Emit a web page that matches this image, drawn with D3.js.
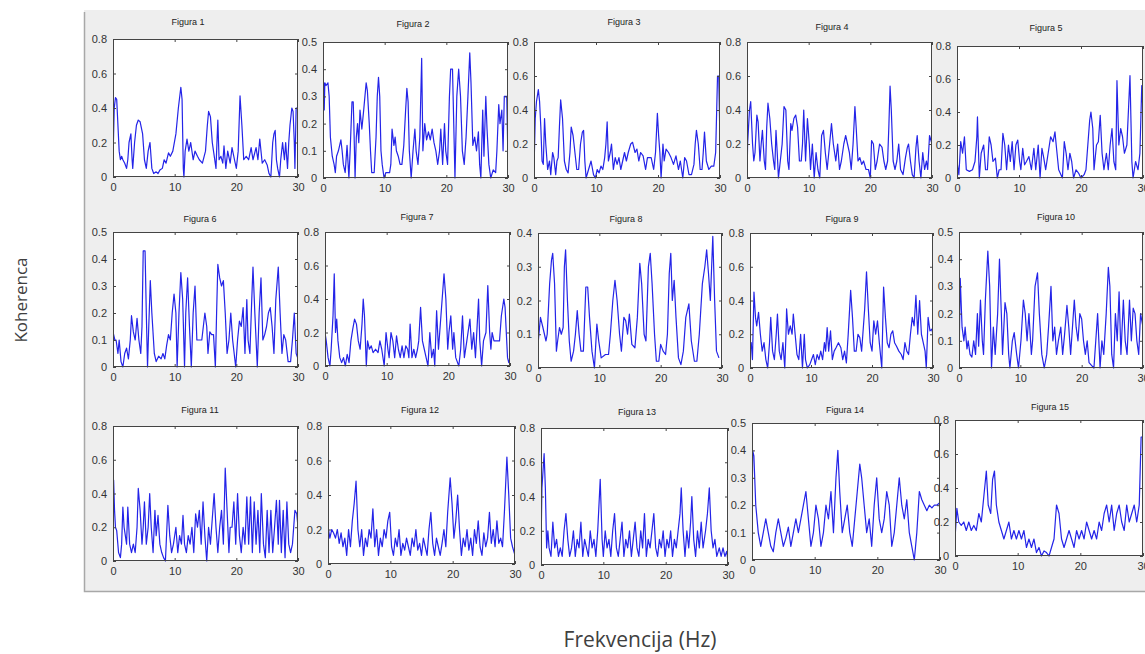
<!DOCTYPE html>
<html>
<head>
<meta charset="utf-8">
<script src="https://cdn.jsdelivr.net/npm/d3@7"></script>
<style>
body { margin: 0; background: #fff; }
</style>
</head>
<body>
<svg id="chart" width="1145" height="654"></svg>
<script>
// coherence readings, [frequency Hz, coherence]
const fig1 = [[0,.1],[.2,.4],[.4,.46],[.6,.45],[.8,.3],[1.0,.15],[1.2,.1],[1.4,.12],[1.6,.1],[1.9,.08],[2.2,.05],[2.4,.1],[2.6,.2],[2.9,.25],[3.1,.1],[3.2,.05],[3.5,.2],[3.8,.3],[4.1,.33],[4.4,.32],[4.8,.25],[5.1,.1],[5.4,.05],[5.7,.15],[6.0,.2],[6.3,.05],[6.6,.02],[7.0,.03],[7.3,.02],[7.6,.04],[8.0,.05],[8.3,.1],[8.6,.08],[9.0,.14],[9.3,.12],[9.7,.15],[10.2,.25],[10.6,.4],[11.0,.52],[11.2,.45],[11.4,.05],[11.5,0],[11.7,.15],[12.0,.22],[12.3,.15],[12.6,.2],[13.0,.1],[13.3,.15],[13.7,.12],[14.0,.1],[14.5,.08],[15.0,.15],[15.3,.3],[15.5,.38],[15.8,.35],[16.1,.2],[16.3,.15],[16.7,.05],[17.0,.33],[17.2,.1],[17.5,.12],[17.8,.08],[18.0,.18],[18.3,.05],[18.6,.15],[19.0,.08],[19.3,.17],[19.7,.1],[20.0,.05],[20.3,.15],[20.6,.47],[20.9,.3],[21.2,.1],[21.6,.12],[22.0,.1],[22.4,.17],[22.7,.1],[23.2,.17],[23.5,.1],[23.8,.22],[24.2,.08],[24.6,.1],[25.0,.07],[25.3,.02],[25.6,0],[25.9,.2],[26.1,.25],[26.3,.27],[26.5,.1],[26.7,.05],[27.0,0],[27.2,.1],[27.5,.2],[27.8,.1],[28.0,.2],[28.3,.05],[28.5,.2],[28.7,.3],[29.0,.4],[29.2,.38],[29.4,.2],[29.5,.05],[29.7,.4],[30,.4]];
const fig2 = [[0,.15],[.1,.35],[.2,.25],[.3,.35],[.5,.34],[.8,.35],[1.0,.3],[1.2,.15],[1.5,.08],[1.8,.05],[2.0,.02],[2.2,.08],[2.5,.1],[2.7,.12],[2.9,.14],[3.1,.1],[3.3,.05],[3.6,.02],[3.9,.12],[4.2,0],[4.4,.1],[4.6,.22],[4.7,.28],[4.9,.28],[5.0,.2],[5.2,0],[5.4,.15],[5.6,.2],[5.8,.13],[6.0,.25],[6.3,.18],[6.6,.25],[6.8,.3],[7.0,.35],[7.2,.32],[7.5,.2],[7.7,.1],[7.9,.02],[8.3,.02],[8.6,.15],[8.8,.3],[9.0,.37],[9.2,.3],[9.4,.1],[9.6,.05],[9.9,0],[10.2,.02],[10.8,.02],[11.0,.05],[11.2,.18],[11.5,.12],[11.7,.15],[11.9,.1],[12.2,.08],[12.5,.05],[12.8,.05],[13.1,.12],[13.4,.25],[13.6,.33],[13.8,.28],[14.0,.1],[14.3,0],[14.6,.1],[14.9,.18],[15.1,.1],[15.4,.05],[15.7,.15],[16.0,.44],[16.2,.1],[16.5,.2],[16.8,.14],[17.1,.17],[17.4,.14],[17.7,.18],[18.0,.13],[18.3,.1],[18.6,.05],[18.9,.1],[19.1,.18],[19.4,.05],[19.7,.2],[19.9,.1],[20.2,.05],[20.5,.3],[20.7,.4],[21.0,.4],[21.2,.2],[21.4,0],[21.7,.3],[22.0,.4],[22.3,.3],[22.6,.1],[22.9,.05],[23.2,.15],[23.5,.3],[23.8,.46],[24.0,.35],[24.3,.12],[24.6,.15],[24.9,.1],[25.2,.17],[25.4,.05],[25.6,0],[25.9,.25],[26.1,.08],[26.4,.3],[26.6,.18],[26.9,.05],[27.2,0],[27.6,.03],[28.0,.02],[28.2,.1],[28.5,.27],[28.7,.2],[29.0,.25],[29.2,.1],[29.4,.3],[29.8,.3],[30,.05]];
const fig3 = [[0,.05],[.2,.35],[.4,.45],[.7,.52],[.9,.45],[1.1,.3],[1.3,.1],[1.5,.08],[1.7,.35],[1.9,.2],[2.2,.05],[2.5,.1],[2.7,.02],[3.0,.15],[3.2,.12],[3.5,.02],[3.7,.1],[3.9,.12],[4.1,.3],[4.3,.46],[4.6,.35],[4.9,.1],[5.2,.05],[5.5,.03],[5.8,.15],[6.0,.3],[6.3,.25],[6.6,.15],[6.9,.05],[7.2,.05],[7.5,.2],[7.8,.27],[8.0,.28],[8.2,.1],[8.4,0],[8.8,.05],[9.2,.1],[9.6,.02],[9.9,0],[10.2,.05],[10.5,.03],[10.8,.07],[11.1,.05],[11.4,.12],[11.6,.2],[11.8,.33],[12.0,.1],[12.3,.15],[12.5,.2],[12.8,.05],[13.1,.12],[13.4,.08],[13.7,.12],[14.0,.05],[14.3,.1],[14.6,.15],[14.9,.1],[15.2,.15],[15.6,.2],[15.9,.21],[16.3,.15],[16.6,.17],[16.9,.1],[17.2,.15],[17.6,.13],[18.0,.05],[18.3,.12],[18.9,.12],[19.3,.05],[19.6,.15],[19.9,.38],[20.1,.25],[20.3,.15],[20.5,0],[20.8,.2],[21.0,.1],[21.3,.17],[21.7,.15],[22.1,.12],[22.5,.08],[22.9,.13],[23.3,.05],[23.6,.1],[24.0,0],[24.3,.12],[24.6,.1],[25.0,.02],[25.4,.02],[25.8,.08],[26.0,.2],[26.2,.28],[26.5,.2],[26.8,.05],[27.1,.05],[27.3,.15],[27.5,.27],[27.8,.1],[28.2,.05],[28.6,.07],[29.0,.07],[29.3,.15],[29.5,.45],[29.6,.6],[29.8,.6],[30,.2]];
const fig4 = [[0,0],[.1,.2],[.4,.4],[.6,.45],[.9,.2],[1.1,.1],[1.3,.15],[1.6,.37],[1.8,.33],[2.1,.1],[2.3,.2],[2.5,.28],[2.8,.1],[3.0,.05],[3.2,.3],[3.4,.44],[3.7,.35],[4.0,.2],[4.3,.1],[4.5,.05],[4.7,.28],[4.9,.15],[5.1,0],[5.4,.1],[5.7,.2],[6.0,.42],[6.3,.4],[6.6,.1],[6.8,.05],[7.1,.32],[7.3,.28],[7.6,.35],[7.9,.37],[8.2,.3],[8.5,.1],[8.8,.1],[9.0,.2],[9.2,.4],[9.5,.1],[9.8,.35],[10.1,.2],[10.3,.05],[10.6,.2],[10.9,0],[11.2,.15],[11.5,.05],[11.8,0],[12.1,.25],[12.4,.28],[12.7,.15],[13.0,.05],[13.4,.2],[13.7,.32],[14.0,.2],[14.4,.1],[14.7,.2],[15.0,.05],[15.3,.1],[15.7,.2],[16.0,.25],[16.3,.2],[16.6,.15],[16.9,.05],[17.2,.2],[17.5,.42],[17.7,.3],[18.0,.1],[18.3,.12],[18.6,.08],[18.9,.1],[19.3,.05],[19.7,.05],[20.0,0],[20.2,.22],[20.5,.2],[20.8,.05],[21.1,.1],[21.5,.2],[21.9,.18],[22.2,.1],[22.5,.05],[22.8,.1],[23.0,.3],[23.2,.54],[23.4,.4],[23.7,.1],[24.0,.05],[24.3,.1],[24.6,.2],[24.9,.05],[25.3,.02],[25.7,.12],[26.0,.18],[26.2,.2],[26.5,.1],[26.8,.02],[27.1,0],[27.4,.18],[27.6,.25],[27.9,.1],[28.2,0],[28.5,.15],[28.8,.05],[29.1,.1],[29.3,.05],[29.6,.25],[30,.2]];
const fig5 = [[0,.1],[.3,.02],[.6,.22],[.9,.15],[1.2,.25],[1.5,.05],[2.0,.04],[2.5,.05],[2.9,.1],[3.2,.25],[3.3,.37],[3.6,0],[3.9,.15],[4.3,.2],[4.6,.05],[4.9,.05],[5.2,.25],[5.5,.2],[5.8,.1],[6.2,.12],[6.5,0],[6.8,.05],[7.1,.05],[7.4,.27],[7.7,.2],[8.0,.05],[8.3,.2],[8.6,.1],[8.9,.22],[9.2,.05],[9.5,.2],[9.8,.23],[10.1,.1],[10.3,.05],[10.6,.18],[10.9,.08],[11.2,.1],[11.6,.13],[12.0,.05],[12.4,.18],[12.7,.05],[13.1,.2],[13.4,0],[13.7,.18],[14.0,.12],[14.3,.05],[14.7,.15],[15.1,.25],[15.5,.22],[15.8,.28],[16.0,.2],[16.4,.05],[17.0,0],[17.3,.22],[17.6,.15],[17.9,.05],[18.2,.15],[18.5,.1],[18.8,0],[19.2,.05],[19.6,.03],[20.0,0],[20.5,.02],[20.8,.05],[21.1,.2],[21.4,.35],[21.6,.4],[21.9,.3],[22.1,.05],[22.5,.2],[22.8,.22],[23.1,.38],[23.4,.15],[23.7,.05],[24.1,.15],[24.4,.05],[24.7,.2],[25.0,.3],[25.3,.1],[25.6,.05],[25.8,.59],[26.1,.2],[26.4,.3],[26.7,.25],[27.0,.15],[27.4,.2],[27.7,.45],[27.9,.62],[28.2,.1],[28.4,0],[28.8,.1],[29.2,.05],[29.5,.15],[29.8,.56],[30,.4]];
const fig6 = [[0,.13],[.3,.1],[.5,.1],[.8,.05],[1.0,.1],[1.3,.02],[1.6,0],[1.9,.05],[2.2,.07],[2.5,.03],[2.8,.1],[3.0,.19],[3.3,.13],[3.6,.1],[3.9,.18],[4.2,.1],[4.5,.05],[4.7,.15],[4.9,.43],[5.2,.43],[5.4,.2],[5.6,0],[5.8,.15],[6.05,.32],[6.3,.2],[6.7,.05],[7.0,.02],[7.4,.04],[7.8,.03],[8.1,.05],[8.4,.03],[8.7,.08],[9.0,.12],[9.3,.1],[9.6,.2],[9.9,.27],[10.2,.2],[10.4,0],[10.7,.2],[11.0,.35],[11.3,.25],[11.6,0],[11.8,.2],[12.1,.33],[12.4,.15],[12.7,0],[13.0,.2],[13.3,.3],[13.6,.1],[14.0,.1],[14.4,.1],[14.9,.2],[15.2,.15],[15.4,.05],[15.7,.13],[16.0,.12],[16.3,.12],[16.6,0],[16.8,.2],[17.0,.38],[17.3,.33],[17.6,.3],[17.9,.32],[18.2,.2],[18.5,.05],[18.8,.1],[19.1,.2],[19.4,.1],[19.9,0],[20.2,.1],[20.5,.17],[20.8,.15],[21.1,.22],[21.4,.05],[21.7,.25],[21.9,.1],[22.2,.05],[22.5,.25],[22.7,.37],[23.0,.2],[23.4,0],[23.7,.2],[24.0,.33],[24.3,.1],[24.6,.12],[24.9,.15],[25.2,.2],[25.5,.22],[25.8,.15],[26.1,.05],[26.4,.25],[26.8,.37],[27.1,.2],[27.4,.05],[27.7,.12],[28.0,.1],[28.4,.02],[28.8,.02],[29.1,.1],[29.4,.2],[29.7,.05],[30,.03]];
const fig7 = [[0,.2],[.2,.15],[.5,.05],[.8,0],[1.0,.1],[1.3,.3],[1.5,.55],[1.7,.2],[1.9,.28],[2.1,.15],[2.4,.05],[2.7,.02],[3.0,.05],[3.3,0],[3.6,.07],[3.9,.02],[4.2,.15],[4.5,.22],[4.8,.28],[5.1,.25],[5.4,.15],[5.7,.1],[6.0,.25],[6.2,.4],[6.4,.3],[6.7,0],[6.9,.15],[7.2,.1],[7.5,.12],[7.8,.08],[8.2,.1],[8.6,.08],[8.9,.15],[9.2,.1],[9.6,0],[9.9,.2],[10.2,.1],[10.4,.05],[10.7,.2],[11.0,.15],[11.3,.05],[11.6,.18],[11.9,.1],[12.2,.05],[12.5,.12],[12.8,.05],[13.1,.12],[13.4,.1],[13.6,.05],[13.8,.25],[14.1,.05],[14.4,.1],[14.7,.05],[15.0,.1],[15.2,.15],[15.5,.35],[15.8,.15],[16.1,.1],[16.4,.05],[16.7,0],[17.0,.2],[17.3,.05],[17.6,.1],[17.8,0],[18.1,.33],[18.4,.1],[18.8,.3],[19.3,.55],[19.6,.4],[19.9,.1],[20.1,.2],[20.4,.3],[20.7,.1],[20.9,.2],[21.2,.05],[21.7,0],[22.0,.1],[22.3,.3],[22.6,.05],[23.0,.15],[23.5,.28],[23.8,.1],[24.1,.2],[24.4,.05],[24.9,.4],[25.1,.15],[25.4,0],[25.7,.15],[26.1,.2],[26.4,.48],[26.7,.2],[26.9,.1],[27.1,.2],[27.4,.15],[27.9,.15],[28.3,.15],[28.6,.3],[29.0,.4],[29.2,.35],[29.6,.05],[29.8,.02],[30,.05]];
const fig8 = [[0,.07],[.4,.15],[.8,.12],[1.3,.08],[1.5,.1],[1.9,.25],[2.2,.32],[2.4,.34],[2.7,.25],[3.0,.05],[3.2,.08],[3.5,.12],[3.8,.1],[4.1,.12],[4.3,.3],[4.5,.35],[4.8,.2],[5.1,.08],[5.4,.02],[5.8,.05],[6.1,.1],[6.4,.17],[6.7,.1],[7.0,.05],[7.4,.05],[7.8,.24],[8.1,.24],[8.4,.15],[8.8,.05],[9.2,0],[9.6,.13],[9.9,.08],[10.3,.03],[11.0,.04],[11.5,.04],[11.8,.1],[12.2,.2],[12.55,.26],[12.9,.2],[13.3,.1],[13.6,.05],[14.0,.15],[14.3,.14],[14.6,.1],[14.9,.16],[15.3,.07],[15.8,.06],[16.2,.15],[16.6,.31],[16.9,.25],[17.3,.1],[17.6,.08],[18.0,.3],[18.3,.34],[18.6,.25],[19.0,.1],[19.3,.02],[19.7,.02],[20.0,.07],[20.4,.05],[20.8,.04],[21.1,.1],[21.4,.28],[21.65,.34],[21.9,.2],[22.2,.26],[22.5,.15],[22.9,.03],[23.3,.01],[23.7,.05],[24.1,.15],[24.6,.19],[25.0,.08],[25.5,.02],[25.9,.02],[26.3,.1],[26.8,.25],[27.2,.3],[27.5,.35],[27.8,.28],[28.1,.2],[28.5,.39],[28.8,.2],[29.1,.05],[29.5,.03]];
const fig9 = [[0,.1],[.2,.15],[.4,.05],[.65,.45],[.9,.3],[1.1,.25],[1.4,.33],[1.7,.2],[2.0,.1],[2.3,.15],[2.6,.05],[2.9,0],[3.2,.15],[3.4,.3],[3.7,.1],[4.0,.05],[4.3,.2],[4.5,.32],[4.8,.1],[5.1,.05],[5.4,.15],[5.7,0],[5.9,.2],[6.0,.35],[6.3,.2],[6.6,.25],[6.9,.2],[7.1,.32],[7.4,.2],[7.7,.08],[8.0,.05],[8.3,.2],[8.6,0],[8.9,.2],[9.1,.05],[9.4,0],[9.8,.02],[10.1,.05],[10.4,.08],[10.7,.02],[11.0,.08],[11.3,.05],[11.6,.1],[11.9,.05],[12.2,.15],[12.4,.1],[12.65,.24],[12.9,.1],[13.2,.22],[13.5,.05],[13.8,.1],[14.1,.12],[14.5,.15],[14.9,.12],[15.2,.05],[15.5,.1],[15.8,.03],[16.1,.2],[16.5,.46],[16.8,.3],[17.1,.1],[17.4,.1],[17.7,.2],[18.0,.18],[18.3,.1],[18.8,.35],[19.1,.57],[19.4,.35],[19.7,.15],[20.0,.1],[20.3,.28],[20.6,.2],[20.9,.28],[21.2,.15],[21.6,0],[21.9,.48],[22.2,.3],[22.5,.15],[22.8,.12],[23.1,.2],[23.4,.22],[23.7,.15],[24.0,.13],[24.4,.1],[24.8,.08],[25.1,.05],[25.4,.15],[25.7,.1],[26.0,.08],[26.3,.2],[26.6,.3],[26.9,.25],[27.2,.43],[27.5,.2],[27.8,.4],[28.1,.2],[28.4,.15],[28.7,.1],[28.9,0],[29.2,.3],[29.5,.22],[29.8,.23],[30,.2]];
const fig10 = [[0,0],[.2,.33],[.5,.15],[.8,.1],[1.0,.15],[1.3,.07],[1.5,.1],[1.8,.05],[2.1,.04],[2.4,.1],[2.7,.05],[3.0,.2],[3.2,.08],[3.5,.25],[3.8,.1],[4.0,.05],[4.3,.25],[4.7,.43],[5.0,.3],[5.3,0],[5.6,.15],[5.9,.05],[6.3,.2],[6.6,.4],[6.9,.2],[7.1,.05],[7.5,.24],[7.8,.2],[8.1,.05],[8.3,0],[8.7,.1],[9.0,.13],[9.4,.05],[9.7,0],[10.1,.1],[10.5,.25],[10.8,.2],[11.1,.1],[11.4,.2],[11.8,.05],[12.0,.1],[12.4,.3],[12.8,.35],[13.1,.2],[13.5,.05],[13.9,0],[14.3,.05],[14.6,.15],[15.0,.3],[15.3,.1],[15.6,.15],[15.9,.05],[16.2,.1],[16.6,.15],[16.9,.05],[17.2,.12],[17.6,.23],[17.9,.15],[18.2,.05],[18.5,.15],[18.8,.25],[19.1,.15],[19.4,.1],[19.7,.2],[20.0,.18],[20.3,.1],[20.6,.05],[20.9,.1],[21.2,.02],[21.6,.01],[22.0,0],[22.3,.1],[22.6,.2],[23.0,0],[23.3,.1],[23.6,.05],[24.0,.2],[24.35,.37],[24.6,.3],[24.9,.05],[25.2,0],[25.5,.2],[25.8,.1],[26.1,.28],[26.4,.05],[26.8,.25],[27.1,.1],[27.4,.05],[27.8,.25],[28.1,.1],[28.4,.22],[28.7,.2],[29.0,.1],[29.3,.05],[29.6,.2],[30,.15]];
const fig11 = [[0,.3],[.1,.48],[.25,.3],[.4,.2],[.6,.18],[.9,.05],[1.2,.02],[1.4,.1],[1.6,.32],[1.8,.2],[2.0,.15],[2.2,.1],[2.4,.32],[2.7,.1],[3.0,.05],[3.3,.1],[3.6,.05],[3.9,.2],[4.1,.43],[4.4,.3],[4.7,.1],[4.9,.2],[5.1,.35],[5.4,.1],[5.7,.2],[5.95,.4],[6.2,.2],[6.5,.05],[6.8,.3],[7.0,.15],[7.3,.27],[7.6,.1],[7.9,.05],[8.2,.02],[8.5,0],[8.9,.33],[9.2,.15],[9.5,.05],[9.8,.1],[10.2,.2],[10.5,.05],[10.8,.15],[11.1,.1],[11.35,.27],[11.6,.1],[11.9,.05],[12.2,.15],[12.5,.1],[12.8,.2],[13.1,.05],[13.4,.28],[13.7,.2],[14.0,.3],[14.3,.1],[14.6,.35],[14.9,.15],[15.2,0],[15.5,.2],[15.8,.1],[16.1,.25],[16.4,.4],[16.7,.2],[17.0,.05],[17.3,.2],[17.6,.3],[17.9,.1],[18.2,.55],[18.5,.3],[18.8,.05],[19.0,.2],[19.3,.2],[19.6,.35],[19.9,.1],[20.2,.4],[20.5,.15],[20.8,.05],[21.1,.2],[21.4,.1],[21.7,.38],[22.0,.1],[22.3,.38],[22.6,.05],[22.9,.35],[23.2,.1],[23.5,.3],[23.8,.05],[24.05,.4],[24.4,.1],[24.7,.02],[25.0,.3],[25.3,.05],[25.6,.3],[25.9,.05],[26.2,.2],[26.5,.36],[26.8,.1],[27.0,.36],[27.3,.05],[27.6,.3],[27.9,.02],[28.2,.35],[28.5,.1],[28.8,.05],[29.1,.1],[29.5,.3],[29.8,.28],[30,.2]];
const fig12 = [[0,.22],[.3,.15],[.6,.2],[.9,.18],[1.2,.15],[1.5,.2],[1.8,.12],[2.1,.18],[2.4,.1],[2.7,.15],[3.0,.05],[3.3,.2],[3.6,.1],[3.9,.25],[4.2,.35],[4.5,.48],[4.8,.2],[5.1,.1],[5.4,.2],[5.7,.05],[6.0,.15],[6.3,.1],[6.6,.2],[6.9,.15],[7.2,.32],[7.5,.1],[7.8,.2],[8.1,.05],[8.4,.15],[8.7,.1],[9.0,.2],[9.3,.15],[9.6,.25],[9.9,.3],[10.2,.1],[10.5,.05],[10.8,.15],[11.1,.1],[11.4,.2],[11.7,.05],[12.0,.12],[12.3,.08],[12.6,.15],[12.9,.1],[13.2,.05],[13.5,.15],[13.8,.1],[14.1,.2],[14.4,.08],[14.7,.12],[15.0,.05],[15.3,.15],[15.6,.1],[15.9,.05],[16.2,.2],[16.5,.3],[16.8,.12],[17.1,.05],[17.4,.15],[17.7,.1],[18.0,.05],[18.3,.12],[18.6,.2],[18.9,.1],[19.2,.3],[19.6,.5],[19.9,.35],[20.2,.15],[20.5,.25],[20.8,.4],[21.1,.2],[21.4,.05],[21.7,.15],[22.0,.1],[22.3,.2],[22.6,.08],[22.9,.15],[23.2,.05],[23.5,.2],[23.8,.12],[24.1,.25],[24.4,.1],[24.7,.05],[25.0,.18],[25.3,.1],[25.6,.15],[25.9,.3],[26.2,.12],[26.5,.2],[26.8,.1],[27.1,.25],[27.4,.12],[27.7,.15],[28.0,.1],[28.3,.3],[28.7,.62],[29.0,.4],[29.3,.15],[29.6,.1],[30,.05]];
const fig13 = [[0,.1],[.15,.45],[.5,.65],[.7,.45],[.9,.1],[1.1,.2],[1.3,.1],[1.6,.05],[1.9,.25],[2.2,.1],[2.5,.15],[2.8,.05],[3.1,.1],[3.4,.05],[3.7,.2],[4.0,.3],[4.3,.15],[4.6,.05],[4.9,.1],[5.2,.2],[5.5,.05],[5.8,.15],[6.1,.1],[6.4,.25],[6.7,.05],[7.0,.15],[7.3,.1],[7.6,.05],[7.9,.2],[8.2,.1],[8.5,.15],[8.8,.05],[9.1,.2],[9.5,.5],[9.8,.15],[10.0,.05],[10.3,.2],[10.6,.1],[10.9,.15],[11.2,.05],[11.5,.2],[11.8,.3],[12.1,.1],[12.4,.05],[12.7,.15],[13.0,.25],[13.3,.05],[13.6,.15],[13.9,.1],[14.2,.2],[14.5,.05],[14.8,.15],[15.1,.25],[15.4,.1],[15.7,.05],[16.0,.2],[16.3,.1],[16.6,.3],[16.9,.05],[17.2,.15],[17.5,.1],[17.8,.2],[18.1,.3],[18.4,.1],[18.7,.05],[19.0,.15],[19.3,.1],[19.6,.2],[19.9,.05],[20.2,.15],[20.5,.1],[20.8,.2],[21.1,.05],[21.4,.15],[21.7,.1],[22.0,.2],[22.3,.3],[22.5,.45],[22.8,.2],[23.1,.05],[23.4,.2],[23.7,.1],[24.0,.25],[24.2,.4],[24.5,.15],[24.8,.05],[25.1,.2],[25.4,.1],[25.7,.25],[26.0,.1],[26.4,.2],[26.7,.3],[27.0,.45],[27.3,.2],[27.6,.1],[27.9,.15],[28.2,.05],[28.6,.1],[28.9,.05],[29.2,.1],[29.5,.05],[29.8,.08],[30,.02]];
const fig14 = [[0,.1],[.1,.4],[.3,.38],[.6,.2],[1.0,.1],[1.4,.05],[1.8,.1],[2.2,.15],[2.6,.1],[3.0,.05],[3.4,.03],[3.8,.1],[4.2,.15],[4.6,.1],[5.0,.05],[5.4,.08],[5.8,.12],[6.2,.05],[6.6,.1],[7.0,.15],[7.4,.1],[7.8,.15],[8.2,.2],[8.6,.25],[9.0,.15],[9.4,.05],[9.8,.1],[10.2,.2],[10.6,.15],[11.0,.05],[11.4,.1],[11.8,.2],[12.2,.15],[12.6,.25],[13.0,.1],[13.4,.3],[13.7,.4],[14.0,.25],[14.4,.1],[14.8,.15],[15.2,.2],[15.6,.1],[16.0,.05],[16.4,.15],[16.8,.25],[17.2,.35],[17.5,.3],[17.9,.2],[18.3,.1],[18.7,.15],[19.1,.05],[19.5,.2],[19.9,.3],[20.3,.15],[20.7,.1],[21.1,.15],[21.5,.25],[21.9,.2],[22.3,.05],[22.7,.1],[23.1,.2],[23.5,.3],[23.9,.2],[24.3,.15],[24.7,.22],[25.1,.1],[25.5,.05],[25.9,0],[26.3,.1],[26.7,.25],[27.1,.22],[27.5,.2],[27.9,.18],[28.3,.2],[28.7,.19],[29.1,.2],[29.5,.2],[30,.21]];
const fig15 = [[0,.1],[.3,.28],[.6,.2],[1.0,.18],[1.4,.2],[1.8,.15],[2.2,.2],[2.6,.15],[3.0,.18],[3.4,.15],[3.8,.25],[4.2,.2],[4.6,.35],[5.0,.5],[5.3,.3],[5.7,.25],[6.0,.45],[6.3,.5],[6.6,.3],[7.0,.2],[7.4,.15],[7.8,.1],[8.2,.15],[8.6,.2],[9.0,.1],[9.4,.15],[9.8,.1],[10.2,.15],[10.6,.1],[11.0,.15],[11.4,.05],[11.8,.1],[12.2,.05],[12.6,.1],[13.0,.02],[13.4,.05],[13.8,0],[14.2,.03],[14.6,.02],[15.0,0],[15.4,.05],[15.8,.1],[16.2,.3],[16.6,.25],[17.0,.1],[17.4,.05],[17.8,.1],[18.2,.15],[18.6,.1],[19.0,.05],[19.4,.15],[19.8,.1],[20.2,.15],[20.6,.1],[21.0,.2],[21.4,.15],[21.8,.1],[22.2,.15],[22.6,.1],[23.0,.2],[23.4,.15],[23.8,.25],[24.2,.3],[24.6,.2],[25.0,.3],[25.4,.15],[25.8,.25],[26.2,.3],[26.6,.2],[27.0,.15],[27.4,.3],[27.8,.2],[28.2,.25],[28.6,.3],[29.0,.2],[29.4,.3],[29.7,.7],[30,.7]];

const series = [fig1, fig2, fig3, fig4, fig5, fig6, fig7, fig8, fig9, fig10, fig11, fig12, fig13, fig14, fig15];
const titles = series.map((d, i) => "Figura " + (i + 1));
const yMaxes = [0.8, 0.5, 0.8, 0.8, 0.8, 0.5, 0.8, 0.4, 0.8, 0.5, 0.8, 0.8, 0.8, 0.5, 0.8];
const xTicks = [0, 10, 20, 30];

// layout: axes boxes [x0,y0,x1,y1] and title anchors
const boxes = [
  [113,39,298,177],[323,42,508,178],[534,42,720,178],[747,42,932,178],[957,46,1143,178],
  [113,232,298,367],[325,232,510,366],[538,233,722,368],[750,233,933,368],[959,232,1143,368],
  [113,426,298,561],[328,426,515,564],[541,428,728,565],[752,423,940,560],[955,420,1143,556]
];
const titleAt = [
  [188,25],[413,27],[624,25],[832,30],[1046,31],
  [200,222],[417,220],[626,222],[842,222],[1056,220],
  [200,413],[420,413],[637,415],[845,413],[1050,410]
];

const svg = d3.select("#chart");
const tickFont = "'Liberation Sans', Arial, sans-serif";

// grey figure window
svg.append("rect").attr("x", 84).attr("y", 10).attr("width", 1061).attr("height", 582).attr("fill", "#eeeeee");
svg.append("path").attr("d", "M84.5,12V591.5H1145").attr("fill", "none").attr("stroke", "#a8a8a8").attr("stroke-width", 1.5);

const fmt = v => v === 0 ? "0" : d3.format(".1f")(v);

series.forEach((data, i) => {
  const [x0, y0, x1, y1] = boxes[i];
  const yMax = yMaxes[i];
  const step = yMax === 0.8 ? 0.2 : 0.1;
  const yTicks = d3.range(0, yMax + 1e-9, step).map(v => +v.toFixed(1));
  const xs = d3.scaleLinear().domain([0, 30]).range([x0, x1]);
  const ys = d3.scaleLinear().domain([0, yMax]).range([y1, y0]);
  const g = svg.append("g");

  g.append("rect").attr("x", x0).attr("y", y0).attr("width", x1 - x0).attr("height", y1 - y0).attr("fill", "#fff");

  g.append("clipPath").attr("id", "clip" + i)
    .append("rect").attr("x", x0).attr("y", y0 - 1).attr("width", x1 - x0).attr("height", y1 - y0 + 2);

  const line = d3.line().x(d => xs(d[0])).y(d => ys(d[1]));
  g.append("path").datum(data)
    .attr("clip-path", "url(#clip" + i + ")")
    .attr("d", line)
    .attr("fill", "none")
    .attr("stroke", "#2424e8")
    .attr("stroke-width", 1.2)
    .attr("stroke-linejoin", "round");

  // axes: ticks inside on all four sides
  const left = d3.axisLeft(ys).tickValues(yTicks).tickSize(-3).tickPadding(6).tickFormat(fmt);
  const right = d3.axisRight(ys).tickValues(yTicks).tickSize(-3).tickFormat("");
  const bottom = d3.axisBottom(xs).tickValues(xTicks).tickSize(-3).tickPadding(6).tickFormat(d3.format("d"));
  const top = d3.axisTop(xs).tickValues(xTicks).tickSize(-3).tickFormat("");

  const axes = [
    g.append("g").attr("transform", "translate(" + x0 + ",0)").call(left),
    g.append("g").attr("transform", "translate(" + x1 + ",0)").call(right),
    g.append("g").attr("transform", "translate(0," + y1 + ")").call(bottom),
    g.append("g").attr("transform", "translate(0," + y0 + ")").call(top)
  ];
  axes.forEach(a => {
    a.select(".domain").remove();
    a.selectAll("line").attr("stroke", "#444");
    a.selectAll("text").attr("font-family", tickFont).attr("font-size", 11).attr("fill", "#333");
  });

  g.append("rect").attr("x", x0 + 0.5).attr("y", y0 + 0.5).attr("width", x1 - x0 - 1).attr("height", y1 - y0 - 1)
    .attr("fill", "none").attr("stroke", "#444").attr("stroke-width", 1);

  g.append("text").attr("x", titleAt[i][0]).attr("y", titleAt[i][1])
    .attr("text-anchor", "middle")
    .attr("font-family", tickFont).attr("font-size", 9).attr("fill", "#222")
    .text(titles[i]);
});

svg.append("text")
  .attr("transform", "translate(27,300) rotate(-90)")
  .attr("text-anchor", "middle")
  .attr("font-family", "'Open Sans', 'Noto Sans', sans-serif").attr("font-size", 17).attr("fill", "#404040")
  .text("Koherenca");

svg.append("text")
  .attr("x", 640).attr("y", 647)
  .attr("text-anchor", "middle")
  .attr("font-family", "'Open Sans', 'Noto Sans', sans-serif").attr("font-size", 21).attr("fill", "#404040")
  .text("Frekvencija (Hz)");
</script>
</body>
</html>
